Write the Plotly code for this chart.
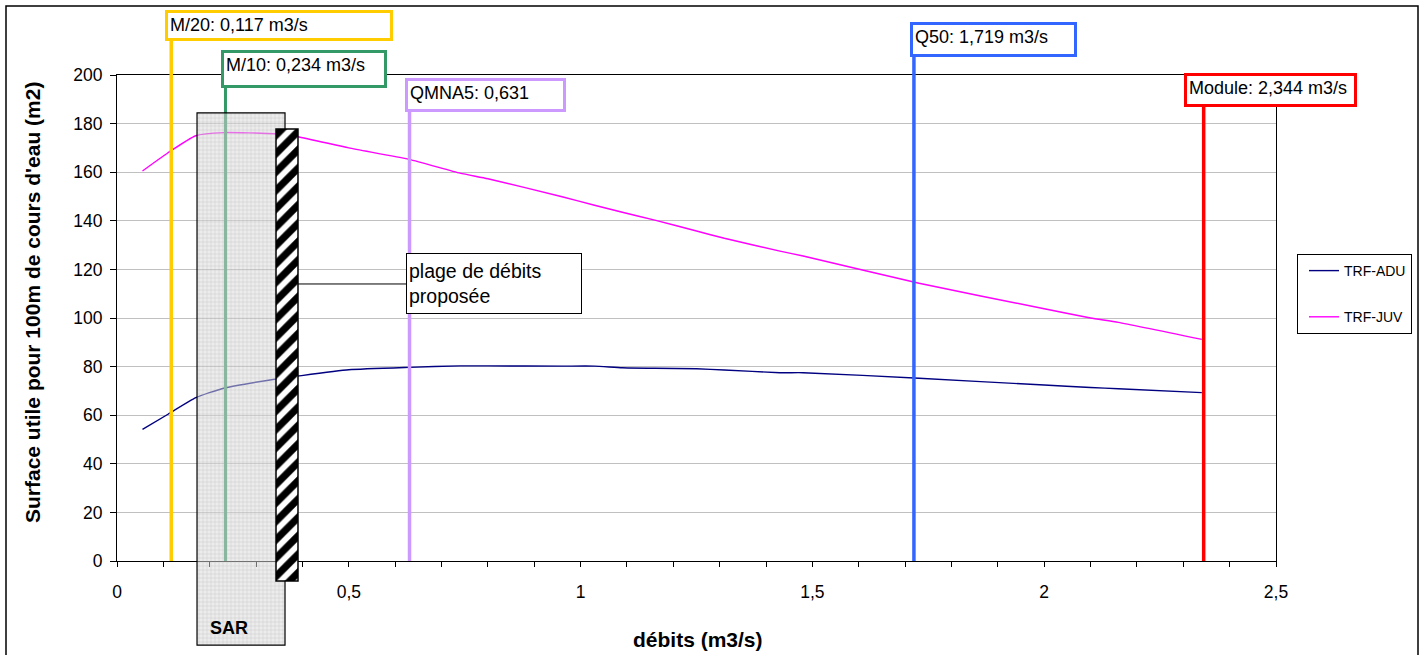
import plotly.graph_objects as go

# ---------------- data ----------------
flows = [0.055, 0.11, 0.17, 0.23, 0.34, 0.39, 0.5, 0.63, 0.74, 0.8, 0.96, 1.03, 1.09,
         1.16, 1.25, 1.31, 1.43, 1.48, 1.73, 2.0, 2.1, 2.16, 2.34]
trf_adu = [54.2, 60.4, 67.2, 71.1, 74.8, 76.1, 78.7, 79.7, 80.3, 80.3, 80.2, 80.2, 79.5,
           79.3, 79.1, 78.6, 77.5, 77.5, 75.2, 72.4, 71.4, 70.9, 69.3]
trf_juv = [160.5, 168.0, 175.0, 176.3, 175.8, 174.6, 170.0, 165.3, 159.6, 157.3, 149.9, 146.4, 143.5,
           140.3, 135.8, 132.8, 127.5, 125.5, 114.3, 103.8, 100.0, 98.2, 91.2]

ref_names = ["M/20", "M/10", "QMNA5", "Q50", "Module"]
ref_flows = [0.117, 0.234, 0.631, 1.719, 2.344]
ref_texts = ["M/20: 0,117 m3/s", "M/10: 0,234 m3/s", "QMNA5: 0,631<br>m3/s",
             "Q50: 1,719 m3/s", "Module: 2,344 m3/s"]

sar_range = [0.1726, 0.3624]        # débits (m3/s)
sar_vert = [-34.6, 184.4]
plage_range = [0.343, 0.3904]
plage_vert = [-8.2, 177.8]

x_tickvals = [0, 0.5, 1, 1.5, 2, 2.5]
x_ticktext = ["0", "0,5", "1", "1,5", "2", "2,5"]
y_tickvals = [0, 20, 40, 60, 80, 100, 120, 140, 160, 180, 200]

# ---------------- layout constants (pixels) ----------------
W, H = 1423, 655
PX_L, PX_R = 117, 1276     # plot area left/right
PY_T, PY_B = 75, 561       # plot area top/bottom
X_RANGE = [0, 2.5]
Y_RANGE = [0, 200]

ref_colors = ["#FFCC00", "#339966", "#CC99FF", "#3366FF", "#FF0000"]
ref_widths = [3.5, 3, 3.5, 3.5, 3.5]
box_left_px = [165, 221, 405, 910, 1184]
box_top_px = [10, 50, 78, 22, 73]
box_w_px = [228, 166, 161, 167, 173]
box_h_px = [31, 38, 34, 35, 34]

FONT = "Liberation Sans, Arial, sans-serif"

xd = [PX_L / W, PX_R / W]
yd = [1 - PY_B / H, 1 - PY_T / H]
# extended (full-paper) y range matching main y scale
vpp = (Y_RANGE[1] - Y_RANGE[0]) / (yd[1] - yd[0])
Y_FULL = [Y_RANGE[0] - yd[0] * vpp, Y_RANGE[1] + (1 - yd[1]) * vpp]
px_per_x = (PX_R - PX_L) / (X_RANGE[1] - X_RANGE[0])


def py_to_full(py):
    return Y_FULL[0] + (1 - py / H) * (Y_FULL[1] - Y_FULL[0])


fig = go.Figure()

# main curves
fig.add_trace(go.Scatter(x=flows, y=trf_adu, name="TRF-ADU", mode="lines",
                         line=dict(color="#000080", width=1.4, shape="spline", smoothing=0.5),
                         legendgroup="a", xaxis="x", yaxis="y"))
fig.add_trace(go.Scatter(x=flows, y=trf_juv, name="TRF-JUV", mode="lines",
                         line=dict(color="#FF00FF", width=1.4, shape="spline", smoothing=0.5),
                         legendgroup="b", xaxis="x", yaxis="y"))

# reference vertical lines (full paper axes)
for i, f in enumerate(ref_flows):
    top_val = py_to_full(box_top_px[i] + box_h_px[i])
    fig.add_trace(go.Scatter(x=[f, f], y=[0, top_val], mode="lines", showlegend=False,
                             line=dict(color=ref_colors[i], width=ref_widths[i]),
                             hoverinfo="skip", xaxis="x2", yaxis="y2"))

# SAR area
fig.add_trace(go.Bar(x=[(sar_range[0] + sar_range[1]) / 2], width=[sar_range[1] - sar_range[0]],
                     base=[sar_vert[0]], y=[sar_vert[1] - sar_vert[0]], showlegend=False,
                     marker=dict(color="rgba(215,215,215,0.5)",
                                 line=dict(color="black", width=1.2),
                                 pattern=dict(shape="+", fgcolor="rgba(150,150,150,0.45)",
                                              bgcolor="rgba(218,218,218,0.5)", size=4, solidity=0.2)),
                     hoverinfo="skip", xaxis="x3", yaxis="y3"))

# proposed range (hatched)
fig.add_trace(go.Bar(x=[(plage_range[0] + plage_range[1]) / 2], width=[plage_range[1] - plage_range[0]],
                     base=[plage_vert[0]], y=[plage_vert[1] - plage_vert[0]], showlegend=False,
                     marker=dict(color="white",
                                 line=dict(color="black", width=1.5),
                                 pattern=dict(shape="/", fgcolor="black", bgcolor="white",
                                              size=13, solidity=0.55)),
                     hoverinfo="skip", xaxis="x4", yaxis="y4"))

annotations = []
for i, f in enumerate(ref_flows):
    line_px = PX_L + (f - X_RANGE[0]) * px_per_x
    annotations.append(dict(
        x=f, xref="x", y=1 - box_top_px[i] / H, yref="paper",
        xanchor="left", yanchor="top", xshift=box_left_px[i] - line_px,
        text=ref_texts[i], showarrow=False, align="left", valign="top",
        width=box_w_px[i] - 10, height=box_h_px[i] - 10,
        bordercolor=ref_colors[i], borderwidth=3, borderpad=2, bgcolor="white",
        font=dict(family=FONT, size=18, color="black")))

# plage de débits proposée
annotations.append(dict(
    x=plage_range[1], xref="x", y=114, yref="y",
    text="plage de débits<br>proposée", showarrow=True, arrowhead=0, arrowwidth=1,
    arrowcolor="black", ax=196, ay=0, axref="pixel", ayref="pixel", standoff=0,
    align="left", valign="middle", width=170, height=55,
    bordercolor="black", borderwidth=1, borderpad=2, bgcolor="white",
    font=dict(family=FONT, size=19.5, color="black")))

annotations.append(dict(x=229 / W, y=1 - 628 / H, xref="paper", yref="paper", text="<b>SAR</b>",
                        xanchor="center", yanchor="middle",
                        showarrow=False, font=dict(family=FONT, size=18, color="black")))
annotations.append(dict(x=698 / W, y=1 - 639 / H, xref="paper", yref="paper",
                        xanchor="center", yanchor="middle",
                        text="<b>débits (m3/s)</b>", showarrow=False,
                        font=dict(family=FONT, size=21, color="black")))
annotations.append(dict(x=32 / W, y=1 - 303 / H, xref="paper", yref="paper",
                        xanchor="center", yanchor="middle",
                        text="<b>Surface utile pour 100m de cours d'eau (m2)</b>", textangle=-90,
                        showarrow=False, font=dict(family=FONT, size=21, color="black")))

hidden = dict(visible=False, fixedrange=True, showgrid=False, zeroline=False, automargin=False)

fig.update_layout(
    template="none",
    width=W, height=H, autosize=False,
    margin=dict(l=0, r=0, t=0, b=0, pad=0, autoexpand=False),
    paper_bgcolor="white", plot_bgcolor="rgba(0,0,0,0)",
    font=dict(family=FONT, size=17, color="black"),
    xaxis=dict(domain=xd, range=X_RANGE, tickvals=x_tickvals, ticktext=x_ticktext,
               ticks="outside", ticklen=5, tickcolor="black", showline=True, linecolor="black",
               linewidth=1, mirror=True, showgrid=False, zeroline=False, anchor="y",
               ticklabelstandoff=10, automargin=False,
               minor=dict(dtick=0.1, ticks="outside", ticklen=5, tickcolor="black"),
               tickfont=dict(family=FONT, size=17.5)),
    yaxis=dict(domain=yd, range=Y_RANGE, tickvals=y_tickvals, ticks="outside", ticklen=6,
               tickcolor="black", showline=True, linecolor="black", linewidth=1, mirror=True,
               showgrid=True, gridcolor="#C0C0C0", gridwidth=1, zeroline=False, anchor="x",
               ticklabelstandoff=4,
               automargin=False, tickfont=dict(family=FONT, size=17.5)),
    xaxis2=dict(domain=xd, range=X_RANGE, anchor="y2", **hidden),
    yaxis2=dict(domain=[0, 1], range=Y_FULL, anchor="x2", **hidden),
    xaxis3=dict(domain=xd, range=X_RANGE, anchor="y3", **hidden),
    yaxis3=dict(domain=[0, 1], range=Y_FULL, anchor="x3", **hidden),
    xaxis4=dict(domain=xd, range=X_RANGE, anchor="y4", **hidden),
    yaxis4=dict(domain=[0, 1], range=Y_FULL, anchor="x4", **hidden),
    showlegend=True,
    legend=dict(x=1297 / W, y=1 - 254 / H, xanchor="left", yanchor="top",
                bgcolor="white", bordercolor="black", borderwidth=1,
                font=dict(family=FONT, size=14), tracegroupgap=25,
                itemwidth=30, indentation=6, entrywidth=120, entrywidthmode="pixels"),
    annotations=annotations,
    shapes=[dict(type="rect", xref="paper", yref="paper", x0=6 / W, x1=1418 / W,
                 y0=-0.02, y1=1 - 6 / H, line=dict(color="black", width=1.5),
                 fillcolor="rgba(0,0,0,0)", layer="above")],
)

fig.write_html("out.html", config={"displayModeBar": False},
               post_script="document.body.style.margin='0';document.body.style.overflow='hidden';")
